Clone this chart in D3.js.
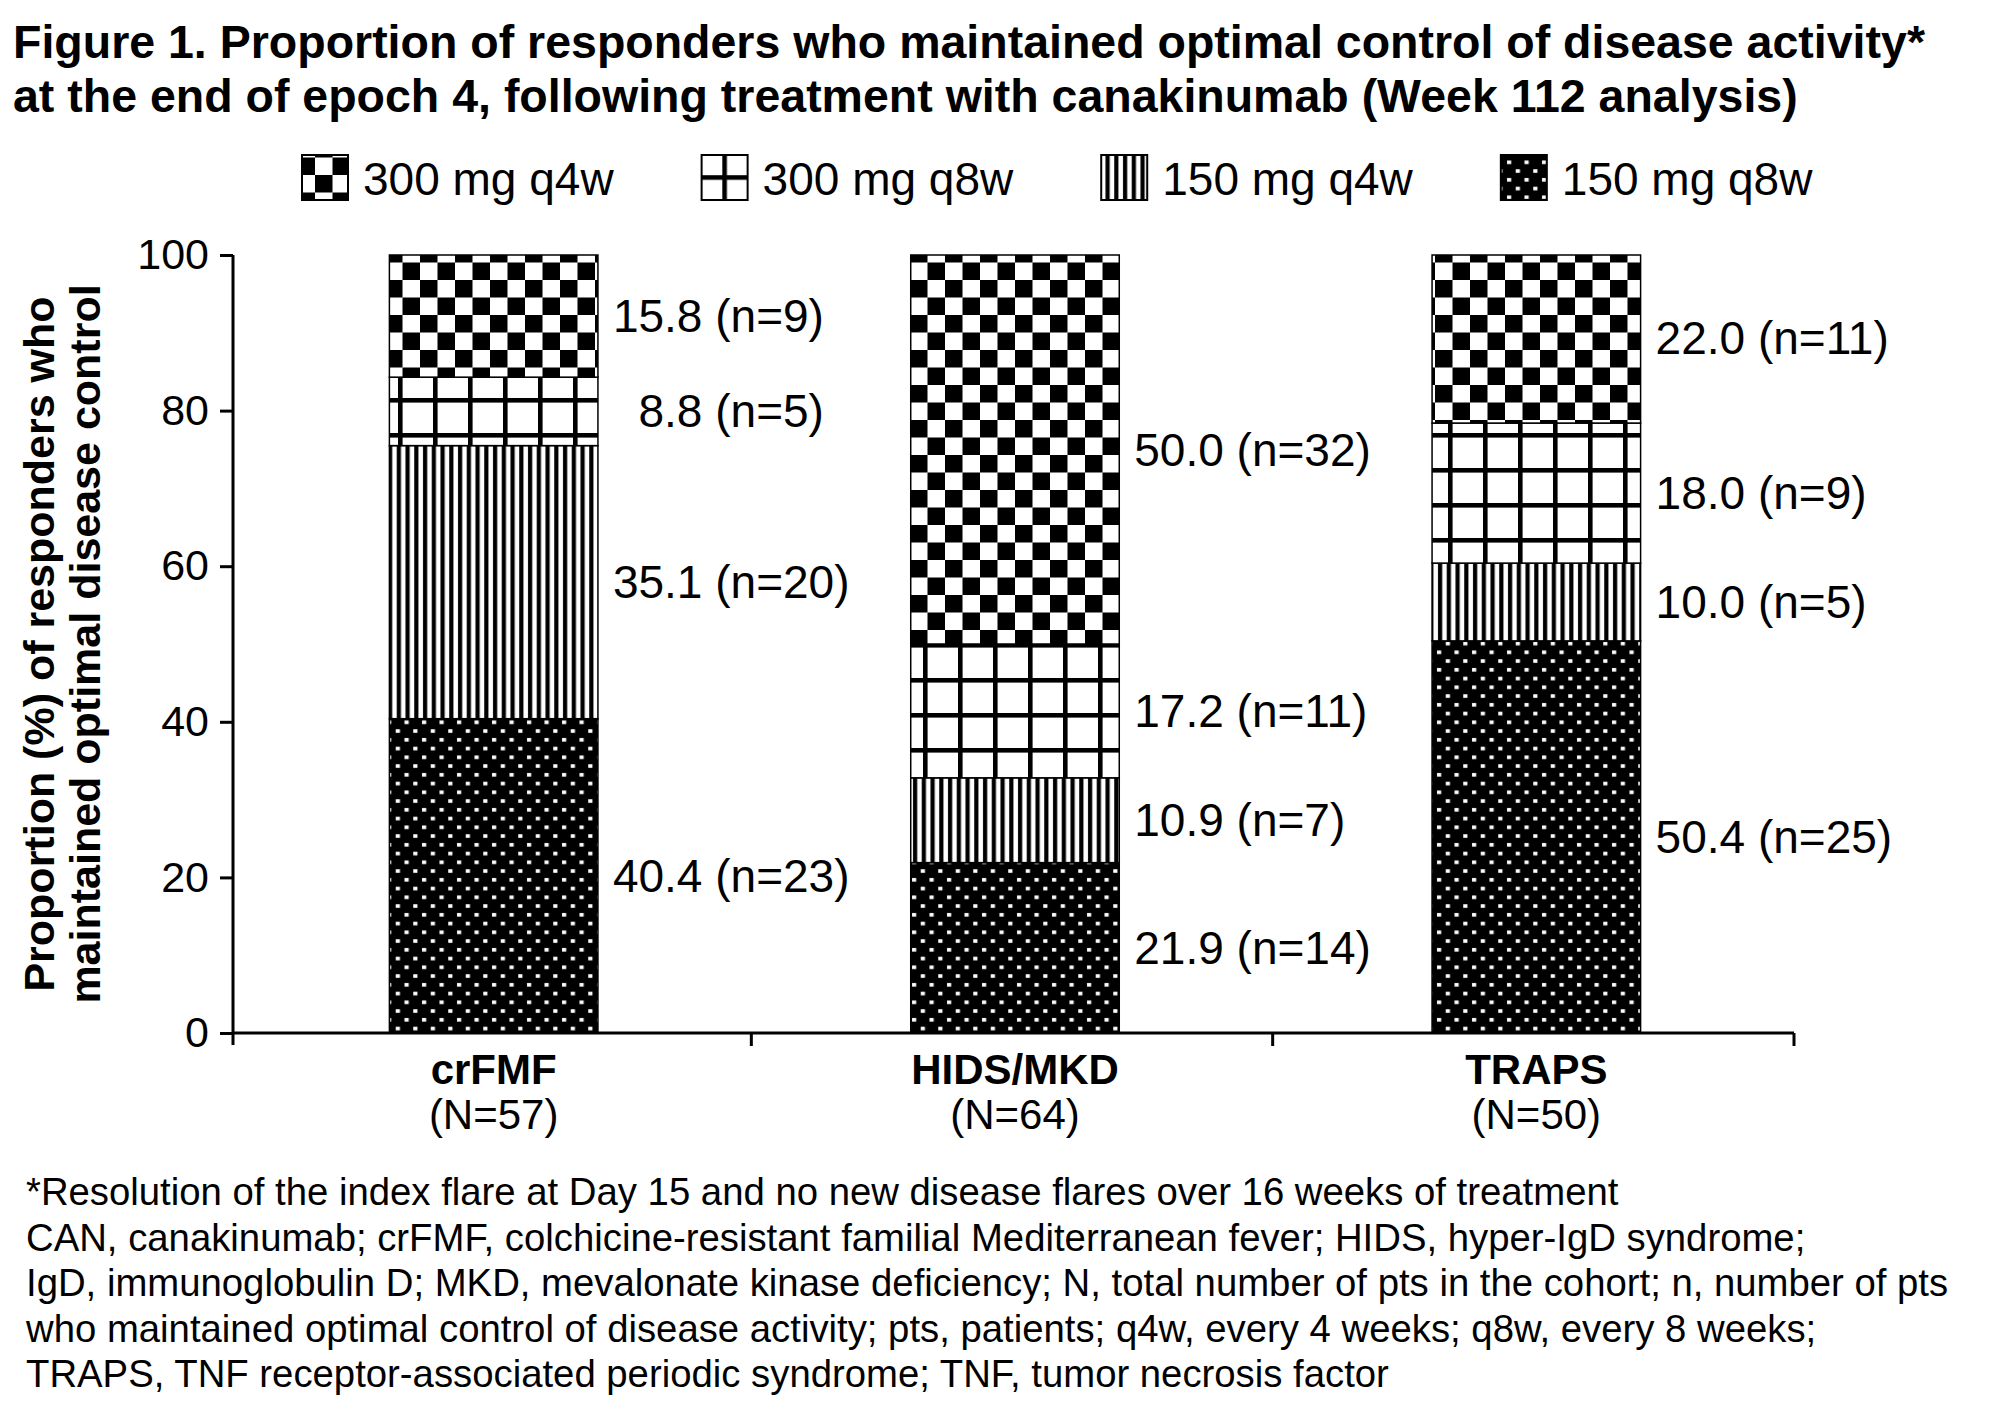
<!DOCTYPE html>
<html>
<head>
<meta charset="utf-8">
<title>Figure 1</title>
<script src="https://cdn.jsdelivr.net/npm/d3@7"></script>
<style>
  body { margin: 0; background: #fff; }
  text { font-family: "Liberation Sans", Arial, sans-serif; fill: #000; }
</style>
</head>
<body>
<div id="chart"></div>
<script>
// data
var categories = ["crFMF", "HIDS/MKD", "TRAPS"];
var totals = [57, 64, 50];
var seriesNames = ["300 mg q4w", "300 mg q8w", "150 mg q4w", "150 mg q8w"];
// stack order bottom -> top
var pct150q8w = [40.4, 21.9, 50.4];
var n150q8w = [23, 14, 25];
var pct150q4w = [35.1, 10.9, 10.0];
var n150q4w = [20, 7, 5];
var pct300q8w = [8.8, 17.2, 18.0];
var n300q8w = [5, 11, 9];
var pct300q4w = [15.8, 50.0, 22.0];
var n300q4w = [9, 32, 11];
var yTicks = [0, 20, 40, 60, 80, 100];

var titleLines = [
  "Figure 1. Proportion of responders who maintained optimal control of disease activity*",
  "at the end of epoch 4, following treatment with canakinumab (Week 112 analysis)"
];
var yTitleLines = ["Proportion (%) of responders who", "maintained optimal disease control"];
var footLines = [
  "*Resolution of the index flare at Day 15 and no new disease flares over 16 weeks of treatment",
  "CAN, canakinumab; crFMF, colchicine-resistant familial Mediterranean fever; HIDS, hyper-IgD syndrome;",
  "IgD, immunoglobulin D; MKD, mevalonate kinase deficiency; N, total number of pts in the cohort; n, number of pts",
  "who maintained optimal control of disease activity; pts, patients; q4w, every 4 weeks; q8w, every 8 weeks;",
  "TRAPS, TNF receptor-associated periodic syndrome; TNF, tumor necrosis factor"
];

var W = 2009, H = 1407;
var svg = d3.select("#chart").append("svg").attr("width", W).attr("height", H);
svg.append("rect").attr("width", W).attr("height", H).attr("fill", "#fff");

// patterns
var defs = svg.append("defs");
var u = 17.5;
var p = defs.append("pattern").attr("id", "p300q4w").attr("patternUnits", "userSpaceOnUse")
  .attr("width", 2 * u).attr("height", 2 * u);
p.append("rect").attr("width", 2 * u).attr("height", 2 * u).attr("fill", "#fff");
p.append("rect").attr("width", u).attr("height", u).attr("fill", "#000");
p.append("rect").attr("x", u).attr("y", u).attr("width", u).attr("height", u).attr("fill", "#000");

function gridPattern(id, ox, oy) {
  var g = defs.append("pattern").attr("id", id).attr("patternUnits", "userSpaceOnUse")
    .attr("x", ox).attr("y", oy).attr("width", 2 * u).attr("height", 2 * u);
  g.append("rect").attr("width", 2 * u).attr("height", 2 * u).attr("fill", "#fff");
  g.append("rect").attr("x", 13).attr("width", 4.6).attr("height", 2 * u).attr("fill", "#000");
  g.append("rect").attr("y", 13).attr("width", 2 * u).attr("height", 4.6).attr("fill", "#000");
}
gridPattern("p300q8w", 0, 0);

p = defs.append("pattern").attr("id", "p150q4w").attr("patternUnits", "userSpaceOnUse")
  .attr("width", u / 2).attr("height", u);
p.append("rect").attr("width", u / 2).attr("height", u).attr("fill", "#fff");
p.append("rect").attr("x", 3).attr("width", 4.2).attr("height", u).attr("fill", "#000");

p = defs.append("pattern").attr("id", "p150q8w").attr("patternUnits", "userSpaceOnUse")
  .attr("width", u).attr("height", u);
p.append("rect").attr("width", u).attr("height", u).attr("fill", "#000");
p.append("rect").attr("x", 2).attr("y", 3).attr("width", 4.2).attr("height", 3.6).attr("fill", "#fff");
p.append("rect").attr("x", 2 + u / 2).attr("y", 3 + u / 2).attr("width", 4.2).attr("height", 3.6).attr("fill", "#fff");

var fills = { "300 mg q4w": "url(#p300q4w)", "300 mg q8w": "url(#p300q8w)",
              "150 mg q4w": "url(#p150q4w)", "150 mg q8w": "url(#p150q8w)" };

// title
svg.append("g").selectAll("text").data(titleLines).enter().append("text")
  .attr("x", 13).attr("y", function(d, i) { return 58 + i * 54; })
  .style("font-size", "46.5px").style("font-weight", "bold")
  .text(function(d) { return d; });

// scales
var x = d3.scaleBand().domain(categories).range([233, 1797]).paddingInner(0.6).paddingOuter(0.3);
var y = d3.scaleLinear().domain([0, 100]).range([1033, 255]);

// stacked rows
var layers = [
  { name: "150 mg q8w", pct: pct150q8w, n: n150q8w },
  { name: "150 mg q4w", pct: pct150q4w, n: n150q4w },
  { name: "300 mg q8w", pct: pct300q8w, n: n300q8w },
  { name: "300 mg q4w", pct: pct300q4w, n: n300q4w }
];
var rows = categories.map(function(c, i) {
  var r = { cat: c };
  layers.forEach(function(l) { r[l.name] = l.pct[i]; });
  return r;
});
var stack = d3.stack().keys(layers.map(function(l) { return l.name; }));
var stacked = stack(rows);

var segs = [];
stacked.forEach(function(s, k) {
  s.forEach(function(d, i) {
    segs.push({ key: s.key, cat: categories[i], y0: d[0], y1: Math.min(d[1], 100),
                mid: (d[0] + d[1]) / 2, pct: layers[k].pct[i], n: layers[k].n[i] });
  });
});

svg.append("g").selectAll("rect").data(segs).enter().append("rect")
  .attr("x", function(d) { return x(d.cat); })
  .attr("y", function(d) { return y(d.y1); })
  .attr("width", x.bandwidth())
  .attr("height", function(d) { return y(d.y0) - y(d.y1); })
  .attr("fill", function(d) { return fills[d.key]; })
  .attr("stroke", "#000").attr("stroke-width", 1.5);

// segment labels
svg.append("g").selectAll("text").data(segs).enter().append("text")
  .attr("x", function(d) { return x(d.cat) + x.bandwidth() + 15; })
  .attr("y", function(d) { return y(d.mid); })
  .attr("dy", "0.35em")
  .style("font-size", "46px")
  .text(function(d) {
    var v = d.pct.toFixed(1);
    if (d.pct < 10) v = "\u2007" + v;
    return v + " (n=" + d.n + ")";
  });

// y axis
var yAxis = svg.append("g").attr("transform", "translate(233,0)")
  .call(d3.axisLeft(y).tickValues(yTicks).tickSize(13).tickPadding(11));
yAxis.select(".domain").attr("stroke-width", 3).attr("d", "M0," + y(100) + "V" + (y(0) + 12));
yAxis.selectAll(".tick line").attr("stroke-width", 3);
yAxis.selectAll(".tick text").style("font-size", "43px")
  .style("font-family", "'Liberation Sans', Arial, sans-serif").attr("fill", "#000");

// x axis: baseline with ticks at band boundaries
var xg = svg.append("g");
xg.append("line").attr("x1", 233).attr("x2", 1794).attr("y1", y(0)).attr("y2", y(0))
  .attr("stroke", "#000").attr("stroke-width", 3);
xg.selectAll("line.tk").data(categories).enter().append("line").attr("class", "tk")
  .attr("x1", function(d) { return x(d) - x.step() * x.paddingOuter() + x.step() - 3; })
  .attr("x2", function(d) { return x(d) - x.step() * x.paddingOuter() + x.step() - 3; })
  .attr("y1", y(0)).attr("y2", y(0) + 13)
  .attr("stroke", "#000").attr("stroke-width", 3);
xg.selectAll("text.cat").data(categories).enter().append("text").attr("class", "cat")
  .attr("x", function(d) { return x(d) + x.bandwidth() / 2; })
  .attr("y", y(0) + 51).attr("text-anchor", "middle")
  .style("font-size", "42px").style("font-weight", "bold")
  .text(function(d) { return d; });
xg.selectAll("text.tot").data(totals).enter().append("text").attr("class", "tot")
  .attr("x", function(d, i) { return x(categories[i]) + x.bandwidth() / 2; })
  .attr("y", y(0) + 96).attr("text-anchor", "middle")
  .style("font-size", "42px")
  .text(function(d) { return "(N=" + d + ")"; });

// y title
var yt = svg.append("text")
  .attr("transform", "translate(0," + y(50) + ") rotate(-90)")
  .attr("text-anchor", "middle")
  .style("font-size", "43px").style("font-weight", "bold");
yt.selectAll("tspan").data(yTitleLines).enter().append("tspan")
  .attr("x", 0).attr("y", function(d, i) { return 54 + i * 46; })
  .text(function(d) { return d; });

// legend
var lg = svg.append("g");
var lx = 302;
seriesNames.forEach(function(s, i) {
  var f = fills[s];
  if (s === "300 mg q8w") {
    // centre the grid cross inside the small key box
    gridPattern("p300q8wKey", lx + 23 - 15.3, 155 + 22.5 - 15.3);
    f = "url(#p300q8wKey)";
  }
  lg.append("rect").attr("x", lx).attr("y", 155).attr("width", 46).attr("height", 45)
    .attr("fill", f).attr("stroke", "#000").attr("stroke-width", 2);
  var t = lg.append("text").attr("x", lx + 61).attr("y", 195)
    .style("font-size", "46px").text(s);
  lx += 61 + t.node().getComputedTextLength() + 88;
});

// footnotes
svg.append("g").selectAll("text").data(footLines).enter().append("text")
  .attr("x", 26).attr("y", function(d, i) { return 1205 + i * 45.5; })
  .style("font-size", "38.3px")
  .text(function(d) { return d; });
</script>
</body>
</html>
